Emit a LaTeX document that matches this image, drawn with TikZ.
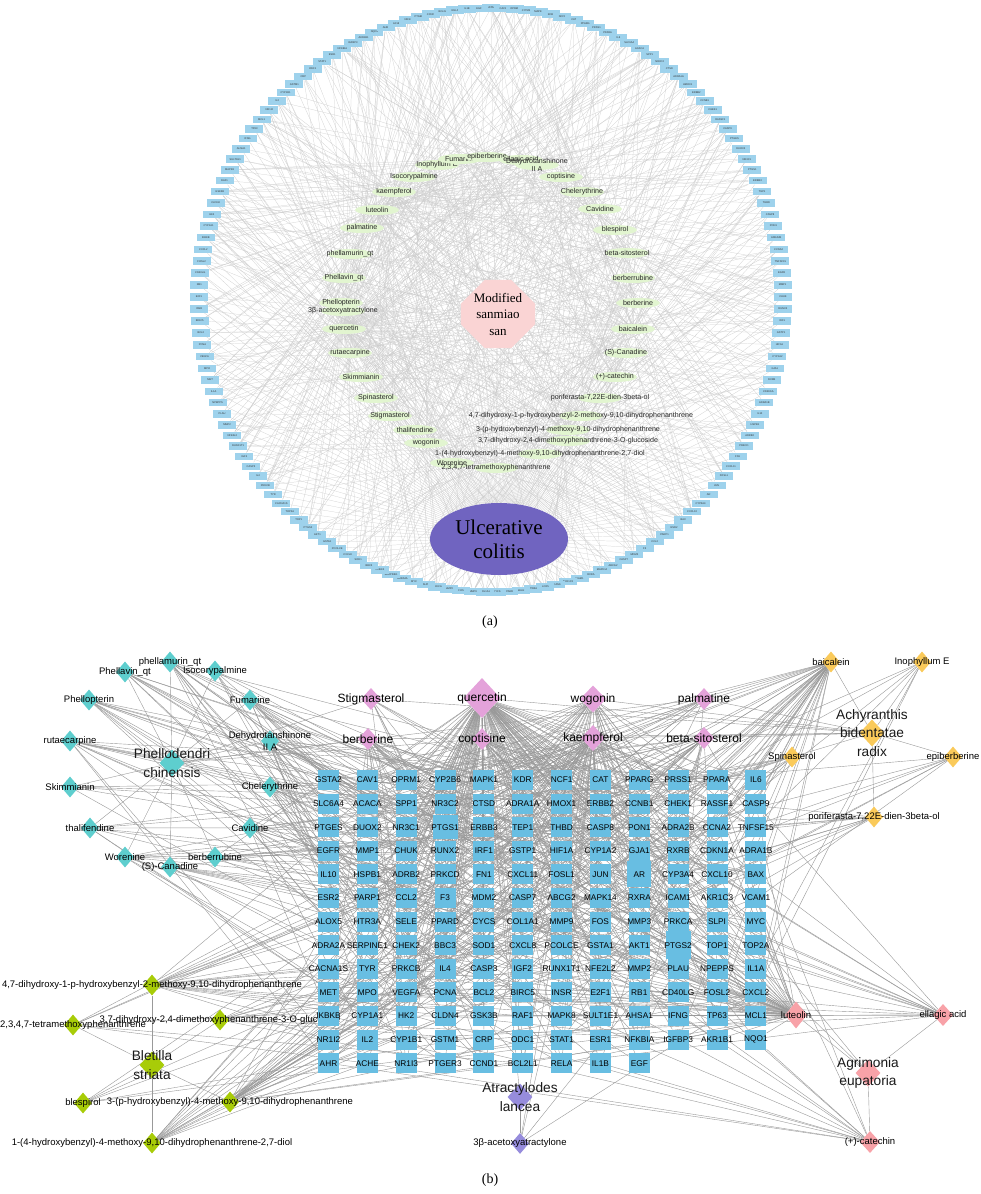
\documentclass[tikz,border=0pt]{standalone}
\usepackage{fontspec}
\setmainfont{Liberation Sans}
\newfontfamily\capserif{Liberation Serif}
\usetikzlibrary{shapes,arrows,positioning,backgrounds}
\definecolor{ringblue}{RGB}{158,210,236}
\definecolor{geneblue}{RGB}{104,190,226}
\definecolor{cpdgreen}{RGB}{226,245,208}
\definecolor{cyanherb}{RGB}{94,206,206}
\definecolor{pinkherb}{RGB}{228,162,218}
\definecolor{orangeherb}{RGB}{250,202,90}
\definecolor{limeherb}{RGB}{168,204,8}
\definecolor{redherb}{RGB}{248,162,168}
\definecolor{purpleherb}{RGB}{150,140,220}
\definecolor{formulapink}{RGB}{250,212,212}
\definecolor{diseasepurple}{RGB}{112,100,192}
\tikzstyle{ring} = [rectangle, fill=ringblue, minimum width=18pt, minimum height=7.5pt, inner sep=0pt, text=black!80, font=\fontsize{2.6}{3}\selectfont]
\tikzstyle{cpd} = [ellipse, fill=cpdgreen, minimum width=44pt, minimum height=10pt, inner sep=0pt]
\tikzstyle{cpdlab} = [text=black!85, font=\fontsize{7.1}{8}\selectfont]
\tikzstyle{formula} = [chamfered rectangle, chamfered rectangle xsep=12pt, chamfered rectangle ysep=12pt, fill=formulapink, minimum width=74pt, minimum height=58pt, inner sep=1pt, align=center, font=\capserif\fontsize{13}{16.5}\selectfont]
\tikzstyle{disease} = [ellipse, fill=diseasepurple, minimum width=138pt, minimum height=72pt, inner sep=0pt, align=center, font=\capserif\fontsize{21}{24}\selectfont]
\tikzstyle{gene} = [rectangle, fill=geneblue, minimum width=21pt, minimum height=20pt, inner sep=0pt]
\tikzstyle{genelab} = [text=black, font=\fontsize{8.3}{9}\selectfont]
\tikzstyle{cyanD} = [diamond, fill=cyanherb, minimum width=18pt, minimum height=21pt, inner sep=0pt]
\tikzstyle{pinkD} = [diamond, fill=pinkherb, minimum width=20pt, minimum height=22pt, inner sep=0pt]
\tikzstyle{orangeD} = [diamond, fill=orangeherb, minimum width=18pt, minimum height=21pt, inner sep=0pt]
\tikzstyle{limeD} = [diamond, fill=limeherb, minimum width=18pt, minimum height=21pt, inner sep=0pt]
\tikzstyle{redD} = [diamond, fill=redherb, minimum width=20pt, minimum height=22pt, inner sep=0pt]
\tikzstyle{purpleD} = [diamond, fill=purpleherb, minimum width=18pt, minimum height=21pt, inner sep=0pt]
\tikzstyle{herbD} = [minimum width=25pt, minimum height=27pt]
\tikzstyle{smalllab} = [text=black, align=center, font=\fontsize{9.5}{12.5}\selectfont]
\tikzstyle{biglab} = [text=black, font=\fontsize{12}{14}\selectfont]
\tikzstyle{herblab} = [text=black!90, align=center, font=\fontsize{13.7}{18.5}\selectfont]
\tikzstyle{caption} = [font=\capserif\fontsize{14}{16}\selectfont]
\tikzstyle{aedge} = [draw=black!20, line width=0.22pt]
\tikzstyle{bedge} = [draw=black!40, line width=0.4pt]
\newcommand\genelist{GSTA2,CAV1,OPRM1,CYP2B6,MAPK1,KDR,NCF1,CAT,PPARG,PRSS1,PPARA,IL6,%
SLC6A4,ACACA,SPP1,NR3C2,CTSD,ADRA1A,HMOX1,ERBB2,CCNB1,CHEK1,RASSF1,CASP9,%
PTGES,DUOX2,NR3C1,PTGS1,ERBB3,TEP1,THBD,CASP8,PON1,ADRA2B,CCNA2,TNFSF15,%
EGFR,MMP1,CHUK,RUNX2,IRF1,GSTP1,HIF1A,CYP1A2,GJA1,RXRB,CDKN1A,ADRA1B,%
IL10,HSPB1,ADRB2,PRKCD,FN1,CXCL11,FOSL1,JUN,AR,CYP3A4,CXCL10,BAX,%
ESR2,PARP1,CCL2,F3,MDM2,CASP7,ABCG2,MAPK14,RXRA,ICAM1,AKR1C3,VCAM1,%
ALOX5,HTR3A,SELE,PPARD,CYCS,COL1A1,MMP9,FOS,MMP3,PRKCA,SLPI,MYC,%
ADRA2A,SERPINE1,CHEK2,BBC3,SOD1,CXCL8,PCOLCE,GSTA1,AKT1,PTGS2,TOP1,TOP2A,%
CACNA1S,TYR,PRKCB,IL4,CASP3,IGF2,RUNX1T1,NFE2L2,MMP2,PLAU,NPEPPS,IL1A,%
MET,MPO,VEGFA,PCNA,BCL2,BIRC5,INSR,E2F1,RB1,CD40LG,FOSL2,CXCL2,%
IKBKB,CYP1A1,HK2,CLDN4,GSK3B,RAF1,MAPK8,SULT1E1,AHSA1,IFNG,TP63,MCL1,%
NR1I2,IL2,CYP1B1,GSTM1,CRP,ODC1,STAT1,ESR1,NFKBIA,IGFBP3,AKR1B1,NQO1,%
AHR,ACHE,NR1I3,PTGER3,CCND1,BCL2L1,RELA,IL1B,EGF}

\begin{document}
\begin{tikzpicture}[x=1pt, y=-1pt]

\useasboundingbox (0,0) rectangle (980,1194);

% (a) =============================

% targets on the ring
\foreach \g [count=\i] in \genelist {
  \pgfmathsetmacro\ang{90-(\i-1)*2.352941}
  \pgfmathsetmacro\rx{491+292*cos(\ang)}
  \pgfmathsetmacro\ry{300-292*sin(\ang)}
  \node[ring] (r\i) at (\rx,\ry) {\g};
}

% formula and disease
\node[formula] (hub) at (498,314) {Modified\\sanmiao\\san};
\node[disease] (uc) at (499,539) {Ulcerative\\colitis};

% compounds, left arc
\node[cpd, label={[cpdlab]center:Inophyllum E}] (aino) at (437,165) {};
\node[cpd, label={[cpdlab]center:Isocorypalmine}] (aiso) at (414,177) {};
\node[cpd, label={[cpdlab]center:kaempferol}] (akae) at (394,192) {};
\node[cpd, label={[cpdlab]center:luteolin}] (alut) at (377,210) {};
\node[cpd, label={[cpdlab]center:palmatine}] (apal) at (362,228) {};
\node[cpd, label={[cpdlab]center:phellamurin\_qt}] (aphq) at (350,254) {};
\node[cpd, label={[cpdlab]center:Phellavin\_qt}] (aphv) at (344,278) {};
\node[cpd, label={[cpdlab]center:Phellopterin}] (aphe) at (341,303) {};
\node[cpd, label={[cpdlab]center:3β-acetoxyatractylone}] (aace) at (343,311) {};
\node[cpd, label={[cpdlab]center:quercetin}] (aque) at (344,329) {};
\node[cpd, label={[cpdlab]center:rutaecarpine}] (arut) at (350,353) {};
\node[cpd, label={[cpdlab]center:Skimmianin}] (aski) at (361,377) {};
\node[cpd, label={[cpdlab]center:Spinasterol}] (aspi) at (376,398) {};
\node[cpd, label={[cpdlab]center:Stigmasterol}] (asti) at (390,416) {};
\node[cpd, label={[cpdlab]center:thalifendine}] (atha) at (415,430) {};
\node[cpd, label={[cpdlab]center:wogonin}] (awog) at (426,443) {};
\node[cpd, label={[cpdlab]center:1-(4-hydroxybenzyl)-4-methoxy-9,10-dihydrophenanthrene-2,7-diol}] (adio) at (540,454) {};
\node[cpd, label={[cpdlab]center:Worenine}] (awor) at (452,463) {};
\node[cpd, label={[cpdlab]center:2,3,4,7-tetramethoxyphenanthrene}] (atet) at (496,468) {};

% compounds, right arc
\node[cpd, label={[cpdlab]center:Fumarine}] (afum) at (460,159) {};
\node[cpd, label={[cpdlab]center:epiberberine}] (aepi) at (487,157) {};
\node[cpd, label={[cpdlab]center:ellagic acid}] (aell) at (521,160) {};
\node[cpd, label={[cpdlab, align=center]center:Dehydrotanshinone\\II A}] (adeh) at (537,165) {};
\node[cpd, label={[cpdlab]center:coptisine}] (acop) at (561,177) {};
\node[cpd, label={[cpdlab]center:Chelerythrine}] (ache) at (582,192) {};
\node[cpd, label={[cpdlab]center:Cavidine}] (acav) at (600,209) {};
\node[cpd, label={[cpdlab]center:blespirol}] (able) at (615,230) {};
\node[cpd, label={[cpdlab]center:beta-sitosterol}] (absi) at (627,253) {};
\node[cpd, label={[cpdlab]center:berberrubine}] (abru) at (633,278) {};
\node[cpd, label={[cpdlab]center:berberine}] (aber) at (638,303) {};
\node[cpd, label={[cpdlab]center:baicalein}] (abai) at (633,329) {};
\node[cpd, label={[cpdlab]center:(S)-Canadine}] (asca) at (626,353) {};
\node[cpd, label={[cpdlab]center:(+)-catechin}] (acat) at (615,377) {};
\node[cpd, label={[cpdlab]center:poriferasta-7,22E-dien-3beta-ol}] (apor) at (600,398) {};
\node[cpd, label={[cpdlab]center:4,7-dihydroxy-1-p-hydroxybenzyl-2-methoxy-9,10-dihydrophenanthrene}] (adhb) at (581,416) {};
\node[cpd, label={[cpdlab]center:3-(p-hydroxybenzyl)-4-methoxy-9,10-dihydrophenanthrene}] (aphb) at (568,430) {};
\node[cpd, label={[cpdlab]center:3,7-dihydroxy-2,4-dimethoxyphenanthrene-3-O-glucoside}] (aglu) at (568,441) {};

\node[caption] (capa) at (490,622) {(a)};

% (b) =============================

% Phellodendri chinensis
\node[cyanD, label={[smalllab]center:phellamurin\_qt}] (bphq) at (170,662) {};
\node[cyanD, label={[smalllab]center:Phellavin\_qt}] (bphv) at (125,672) {};
\node[cyanD, label={[smalllab]center:Isocorypalmine}] (biso) at (215,671) {};
\node[cyanD, label={[smalllab]center:Phellopterin}] (bphe) at (89,700) {};
\node[cyanD, label={[smalllab]center:Fumarine}] (bfum) at (250,700) {};
\node[cyanD, label={[smalllab]center:rutaecarpine}] (brut) at (70,741) {};
\node[cyanD, label={[smalllab]center:Dehydrotanshinone\\II A}] (bdeh) at (270,741) {};
\node[cyanD, herbD, label={[herblab]center:Phellodendri\\chinensis}] (hPC) at (172,763) {};
\node[cyanD, label={[smalllab]center:Skimmianin}] (bski) at (70,787) {};
\node[cyanD, label={[smalllab]center:Chelerythrine}] (bche) at (270,787) {};
\node[cyanD, label={[smalllab]center:thalifendine}] (btha) at (90,828) {};
\node[cyanD, label={[smalllab]center:Cavidine}] (bcav) at (250,828) {};
\node[cyanD, label={[smalllab]center:Worenine}] (bwor) at (125,857) {};
\node[cyanD, label={[smalllab]center:berberrubine}] (bbru) at (215,857) {};
\node[cyanD, label={[smalllab]center:(S)-Canadine}] (bsca) at (170,867) {};

% shared compounds
\node[pinkD, label={[biglab]center:Stigmasterol}] (bsti) at (371,699) {};
\node[pinkD, minimum width=37pt, minimum height=40pt, label={[biglab]center:quercetin}] (bque) at (482,698) {};
\node[pinkD, minimum width=26pt, minimum height=27pt, label={[biglab]center:wogonin}] (bwog) at (593,699) {};
\node[pinkD, label={[biglab]center:palmatine}] (bpal) at (704,699) {};
\node[pinkD, label={[biglab]center:berberine}] (bber) at (368,739) {};
\node[pinkD, label={[biglab]center:coptisine}] (bcop) at (482,739) {};
\node[pinkD, minimum width=24pt, minimum height=26pt, label={[biglab]center:kaempferol}] (bkae) at (593,738) {};
\node[pinkD, label={[biglab]center:beta-sitosterol}] (bbsi) at (704,738) {};

% Achyranthis bidentatae radix
\node[orangeD, label={[smalllab]center:baicalein}] (bbai) at (831,662) {};
\node[orangeD, label={[smalllab]center:Inophyllum E}] (bino) at (922,662) {};
\node[orangeD, herbD, label={[herblab]center:Achyranthis\\bidentatae\\radix}] (hAB) at (872,733) {};
\node[orangeD, label={[smalllab]center:Spinasterol}] (bspi) at (792,757) {};
\node[orangeD, label={[smalllab]center:epiberberine}] (bepi) at (953,757) {};
\node[orangeD, label={[smalllab]center:poriferasta-7,22E-dien-3beta-ol}] (bpor) at (874,817) {};

% Bletilla striata
\node[limeD, label={[smalllab]center:4,7-dihydroxy-1-p-hydroxybenzyl-2-methoxy-9,10-dihydrophenanthrene}] (bdhb) at (152,985) {};
\node[limeD, label={[smalllab]center:2,3,4,7-tetramethoxyphenanthrene}] (btet) at (73,1025) {};
\node[limeD, label={[smalllab]center:3,7-dihydroxy-2,4-dimethoxyphenanthrene-3-O-glucoside}] (bglu) at (220,1020) {};
\node[limeD, herbD, label={[herblab]center:Bletilla\\striata}] (hBS) at (152,1065) {};
\node[limeD, label={[smalllab]center:blespirol}] (bble) at (83,1103) {};
\node[limeD, label={[smalllab]center:3-(p-hydroxybenzyl)-4-methoxy-9,10-dihydrophenanthrene}] (bphb) at (230,1102) {};
\node[limeD, label={[smalllab]center:1-(4-hydroxybenzyl)-4-methoxy-9,10-dihydrophenanthrene-2,7-diol}] (bdio) at (152,1143) {};

% Agrimonia eupatoria
\node[redD, minimum width=22pt, minimum height=27pt, label={[smalllab]center:luteolin}] (blut) at (796,1015) {};
\node[redD, label={[smalllab]center:ellagic acid}] (bell) at (943,1015) {};
\node[redD, herbD, label={[herblab]center:Agrimonia\\eupatoria}] (hAE) at (868,1073) {};
\node[redD, label={[smalllab]center:(+)-catechin}] (bcat) at (870,1142) {};

% Atractylodes lancea
\node[purpleD, herbD, label={[herblab]center:Atractylodes\\lancea}] (hAL) at (520,1097) {};
\node[purpleD, below=22pt of hAL, label={[smalllab]center:3β-acetoxyatractylone}] (bace) {};

% targets grid
\foreach \g [count=\i] in \genelist {
  \pgfmathtruncatemacro\col{mod(\i-1,12)}
  \pgfmathtruncatemacro\row{(\i-1)/12}
  \pgfmathsetmacro\gx{328.5+38.85*\col}
  \pgfmathsetmacro\gy{780+23.6*\row}
  \def\bw{21}\def\bh{20}
  \ifnum\i=28 \def\bw{25}\def\bh{24}\fi
  \ifnum\i=57 \def\bw{24}\def\bh{26}\fi
  \ifnum\i=94 \def\bw{25}\def\bh{28}\fi
  \node[gene, minimum width=\bw pt, minimum height=\bh pt, label={[genelab]center:\g}] (g\i) at (\gx,\gy) {};
}

\node[caption] (capb) at (490,1180) {(b)};

% edges =============================
\begin{scope}[on background layer]
\fill[white] (0,0) rectangle (980,1194);
\pgfmathsetseed{4242}
\foreach \k/\p in {phq/0.04, phv/0.04, iso/0.06, phe/0.06, fum/0.07, rut/0.08, deh/0.08, ski/0.03, che/0.08, tha/0.06, cav/0.08, wor/0.05, bru/0.06, sca/0.06, sti/0.06, que/0.75, wog/0.25, pal/0.1, ber/0.12, cop/0.15, kae/0.3, bsi/0.15, bai/0.2, ino/0.06, spi/0.06, epi/0.07, por/0.04, dhb/0.1, tet/0.06, glu/0.05, ble/0.03, phb/0.12, dio/0.12, lut/0.35, ell/0.12, cat/0.08, ace/0.05} {
  \foreach \i in {1,...,153} {
    \pgfmathtruncatemacro\hit{rnd<\p}
    \ifnum\hit=1
      \path[aedge] (a\k) -- (r\i);
      \path[bedge] (b\k) -- (g\i);
    \fi
  }
  \path[aedge] (hub) -- (a\k);
}
\foreach \i in {1,...,153} \path[aedge] (r\i) -- (uc);

\foreach \k in {phq,phv,iso,phe,fum,rut,deh,ski,che,tha,cav,wor,bru,sca,pal,ber,cop,sti} \path[bedge] (hPC) -- (b\k);
\foreach \k in {bai,ino,spi,epi,por,que,kae,bsi,sti,wog,ber,pal} \path[bedge] (hAB) -- (b\k);
\foreach \k in {dhb,tet,glu,ble,phb,dio} \path[bedge] (hBS) -- (b\k);
\foreach \k in {lut,ell,cat,que,kae} \path[bedge] (hAE) -- (b\k);
\foreach \k in {ace,que} \path[bedge] (hAL) -- (b\k);
\end{scope}

\end{tikzpicture}
\end{document}
